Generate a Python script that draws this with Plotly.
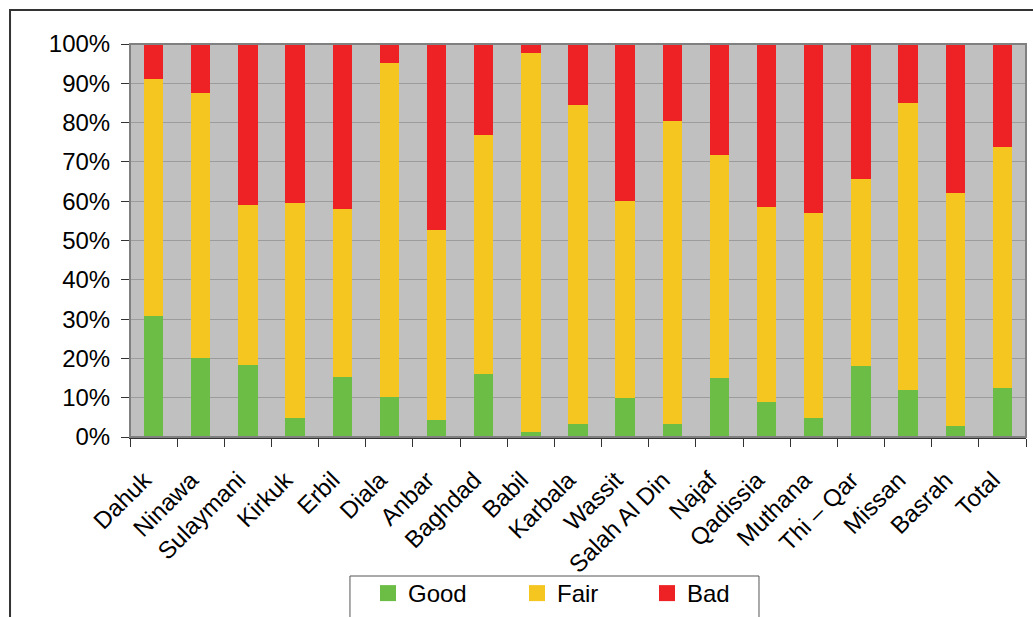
import plotly.graph_objects as go

# Share of responses per governorate, in percent
regions = ["Dahuk", "Ninawa", "Sulaymani", "Kirkuk", "Erbil", "Diala", "Anbar",
           "Baghdad", "Babil", "Karbala", "Wassit", "Salah Al Din", "Najaf",
           "Qadissia", "Muthana", "Thi \u2013 Qar", "Missan", "Basrah", "Total"]
good = [30.8, 20.2, 18.4, 4.9, 15.3, 10.2, 4.4, 16.1, 1.4, 3.4, 10.0, 3.4,
        15.1, 9.0, 4.9, 18.1, 12.0, 2.9, 12.5]
fair = [60.3, 67.3, 40.6, 54.6, 42.7, 84.9, 48.3, 60.7, 96.3, 81.0, 50.0, 77.0,
        56.6, 49.5, 52.1, 47.5, 73.0, 59.2, 61.3]
bad = [8.9, 12.5, 41.0, 40.5, 42.0, 4.9, 47.3, 23.2, 2.3, 15.6, 40.0, 19.6,
       28.3, 41.5, 43.0, 34.4, 15.0, 37.9, 26.2]

series = [("Good", good, "#6BBD45"), ("Fair", fair, "#F5C520"), ("Bad", bad, "#EE2224")]
legend_ids = ["legend", "legend2", "legend3"]
legend_x = [0.2656, 0.4319, 0.577]

FONT = "Arial, Liberation Sans, sans-serif"
# trailing gap so each rotated label ends just left of its category
label_text = [r + "\u00a0\u00a0" for r in regions]

fig = go.Figure()
for name, vals, color in series:
    fig.add_trace(go.Bar(name=name, x=regions, y=vals, marker_color=color,
                         marker_line_width=0, showlegend=False))

# legend keys with larger square swatches
for (name, vals, color), lid in zip(series, legend_ids):
    fig.add_trace(go.Scatter(name=name, x=[None], y=[None], mode="markers",
                             marker=dict(symbol="square", size=16, color=color),
                             legend=lid, showlegend=True))

legend_common = dict(orientation="h", xanchor="left", y=-0.341, yanchor="top",
                     font=dict(size=24, family=FONT), bgcolor="rgba(0,0,0,0)")

fig.update_layout(
    width=1033, height=617,
    margin=dict(l=130, r=7, t=44, b=180, autoexpand=False),
    barmode="stack", bargap=0.59,
    plot_bgcolor="#C0C0C0", paper_bgcolor="white",
    font=dict(family=FONT, color="black"),
    legend=dict(x=legend_x[0], **legend_common),
    legend2=dict(x=legend_x[1], **legend_common),
    legend3=dict(x=legend_x[2], **legend_common),
    xaxis=dict(type="category", tickangle=-45, tickfont=dict(size=24),
               tickvals=regions, ticktext=label_text,
               automargin=False,
               showline=True, linecolor="#333333", linewidth=2,
               ticks="outside", tickson="boundaries", ticklen=8, tickcolor="#333333",
               showgrid=False, ticklabelstandoff=8),
    yaxis=dict(range=[0, 100], dtick=10, ticksuffix="%", tickfont=dict(size=24),
               automargin=False,
               showline=True, linecolor="#333333", linewidth=1,
               ticks="outside", ticklen=8, tickcolor="#333333",
               gridcolor="#9C9C9C", gridwidth=1, zeroline=False,
               ticklabelstandoff=6),
    shapes=[
        # plot area outline (top/right edges)
        dict(type="rect", xref="paper", yref="paper", x0=0, x1=1, y0=0, y1=1,
             line=dict(color="#808080", width=2), layer="above"),
        # outer chart frame
        dict(type="rect", xref="paper", yref="paper", x0=-0.1339, x1=1.02,
             y0=-0.6, y1=1.0865, line=dict(color="#333333", width=2)),
        # legend frame
        dict(type="rect", xref="paper", yref="paper", x0=0.2455, x1=0.702,
             y0=-0.6, y1=-0.3537, line=dict(color="#555555", width=1)),
    ],
)

fig.write_html("out.html")
